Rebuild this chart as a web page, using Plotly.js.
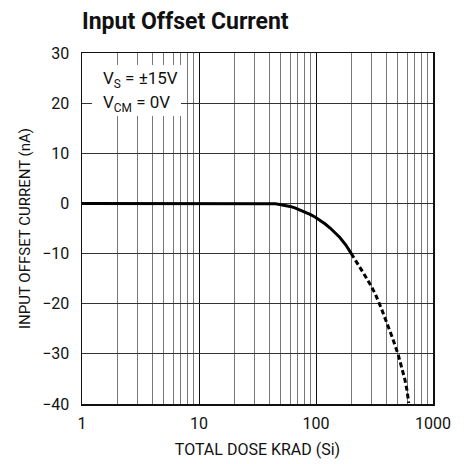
<!DOCTYPE html>
<html>
<head>
<meta charset="utf-8">
<script src="https://cdn.plot.ly/plotly-3.0.1.min.js"></script>
<style>html,body{margin:0;padding:0;background:#fff;}#chart{width:468px;height:464px;}</style>
</head>
<body>
<div id="chart"></div>
<script>
const solidDose = [1, 40, 45, 49, 55, 60, 66, 73, 80, 89, 98, 108, 120, 132, 145, 160, 180, 200];
const solidCurrent = [0, 0, -0.08, -0.2, -0.4, -0.6, -0.9, -1.3, -1.7, -2.2, -2.7, -3.3, -4.1, -4.9, -5.8, -6.8, -8.3, -10];
const dashDose = [200, 225, 250, 285, 319, 360, 402, 450, 505, 540, 576, 600, 620];
const dashCurrent = [-10, -11.8, -13.6, -15.8, -17.9, -20.8, -23.6, -26.8, -30.2, -32.6, -35.2, -37.3, -39.8];
const xTickVals = [1, 10, 100, 1000];
const xTickText = ['1', '10', '100', '1000'];
const xMinorVals = [2,3,4,5,6,7,8,9,20,30,40,50,60,70,80,90,200,300,400,500,600,700,800,900];
const yTickVals = [-40, -30, -20, -10, 0, 10, 20, 30];
const yTickText = ['\u221240', '\u221230', '\u221220', '\u221210', '0', '10', '20', '30'];

const FONT = 'Roboto, "Liberation Sans", Arial, sans-serif';

const traces = [
  {x: solidDose, y: solidCurrent, type: 'scatter', mode: 'lines',
   line: {color: '#000', width: 3, shape: 'linear'}, hoverinfo: 'skip'},
  {x: dashDose, y: dashCurrent, type: 'scatter', mode: 'lines',
   line: {color: '#000', width: 3, dash: '5px,3px', shape: 'linear'}, hoverinfo: 'skip'}
];

const layout = {
  width: 468, height: 464,
  margin: {l: 82, r: 35, t: 53, b: 60},
  paper_bgcolor: '#fff', plot_bgcolor: '#fff',
  showlegend: false,
  font: {family: FONT, color: '#111', size: 16},
  title: {text: '<b>Input Offset Current</b>', x: 82/468, xanchor: 'left', xref: 'container',
          y: 1 - 21/464, yanchor: 'middle', yref: 'container',
          font: {family: FONT, size: 23, color: '#111'}},
  xaxis: {type: 'log', range: [0, 3], tickmode: 'array', tickvals: xTickVals, ticktext: xTickText,
          showgrid: true, gridcolor: '#111', gridwidth: 1,
          minor: {tickmode: 'array', tickvals: xMinorVals, showgrid: true, gridcolor: '#777', gridwidth: 1, ticks: ''},
          showline: true, linecolor: '#111', linewidth: 1.5, mirror: true, ticks: '', zeroline: false,
          ticklabelstandoff: 4,
          tickfont: {family: FONT, size: 16, color: '#111'},
          title: {text: 'TOTAL DOSE KRAD (Si)', standoff: 12, font: {family: FONT, size: 16, color: '#111'}}},
  yaxis: {range: [-40, 30], tickmode: 'array', tickvals: yTickVals, ticktext: yTickText,
          showgrid: true, gridcolor: '#333', gridwidth: 1, zeroline: false,
          showline: true, linecolor: '#111', linewidth: 1.5, mirror: true, ticks: '',
          ticklabelstandoff: 8,
          tickfont: {family: FONT, size: 16, color: '#111'},
          title: {text: 'INPUT OFFSET CURRENT (nA)', standoff: 8, font: {family: FONT, size: 15, color: '#111'}}},
  shapes: [
    {type: 'rect', xref: 'paper', yref: 'paper', x0: 10/351, x1: 99/351, y0: 1 - 63/351, y1: 1 - 12/351,
     fillcolor: '#fff', line: {width: 0}, layer: 'above'}
  ],
  annotations: [
    {xref: 'paper', yref: 'paper', x: 19/351, y: 1 - 27/351, xanchor: 'left', yanchor: 'middle',
     text: 'V<sub>S</sub> = \u00b115V', showarrow: false, font: {family: FONT, size: 17, color: '#111'}},
    {xref: 'paper', yref: 'paper', x: 19/351, y: 1 - 50/351, xanchor: 'left', yanchor: 'middle',
     text: 'V<sub>CM</sub> = 0V', showarrow: false, font: {family: FONT, size: 17, color: '#111'}}
  ]
};

Plotly.newPlot('chart', traces, layout, {staticPlot: true, displayModeBar: false});
</script>
</body>
</html>
